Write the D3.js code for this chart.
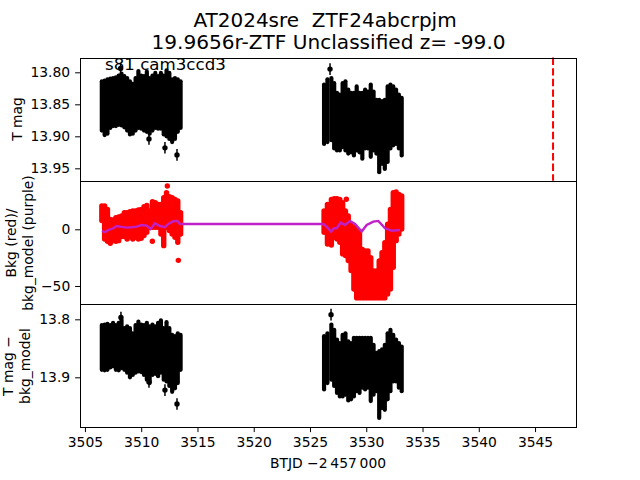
<!DOCTYPE html>
<html>
<head>
<meta charset="utf-8">
<script src="https://cdn.jsdelivr.net/npm/d3@7"></script>
<style>
  html, body { margin: 0; padding: 0; background: #fff; }
  svg { display: block; }
  text { font-family: "DejaVu Sans", sans-serif; fill: #000; }
</style>
</head>
<body>
<svg id="chart" width="640" height="480"></svg>
<script>
// binned times, first orbit then second orbit
const binTimes = [
  3506.5,3506.75,3507,3507.25,3507.5,3507.75,3508,3508.25,3508.5,3508.75,3509,3509.25,3509.5,3509.75,3510,
  3510.25,3510.5,3510.75,3511,3511.25,3511.5,3511.75,3512,3512.25,3512.5,3512.75,3513,3513.25,3513.5,
  3526.25,3526.55,3526.9,3527.15,3527.4,3527.65,3527.9,3528.15,3528.4,3528.65,3528.9,3529.15,3529.4,3529.65,
  3529.9,3530.15,3530.4,3530.65,3530.9,3531.15,3531.4,3531.65,3531.9,3532.15,3532.4,3532.65,3532.9,3533.15
];

// top panel: T mag envelope per bin
const magTop = [
  13.814,13.813,13.811,13.810,13.809,13.808,13.805,13.802,13.806,13.809,13.814,13.818,13.809,13.798,13.805,
  13.806,13.799,13.809,13.805,13.801,13.806,13.801,13.805,13.797,13.801,13.811,13.809,13.811,13.814,
  13.819,13.811,13.809,13.817,13.832,13.835,13.817,13.814,13.827,13.832,13.832,13.822,13.832,13.832,
  13.827,13.830,13.819,13.830,13.843,13.843,13.845,13.843,13.822,13.819,13.822,13.827,13.835,13.840
];
const magBottom = [
  13.891,13.898,13.896,13.887,13.884,13.884,13.882,13.883,13.886,13.891,13.897,13.896,13.891,13.887,13.888,
  13.891,13.893,13.896,13.891,13.887,13.888,13.888,13.897,13.900,13.904,13.909,13.904,13.893,13.887,
  13.912,13.909,13.906,13.919,13.922,13.922,13.917,13.922,13.927,13.925,13.930,13.922,13.925,13.935,
  13.919,13.919,13.932,13.922,13.927,13.956,13.943,13.951,13.940,13.919,13.914,13.912,13.919,13.930
];
const magOutTimes = [3508.17,3510.69,3512.11,3513.18,3526.78];
const magOutValues = [13.794,13.904,13.918,13.929,13.795];

// middle panel: background envelope per bin
const bkgTop = [
  20.5,20.5,17.6,8.8,8.2,10.2,10.8,11.7,14.7,14.7,15.5,16.1,16.1,17,17.6,
  20,21.1,16.1,24.4,23.5,22,22,27.9,32.3,28.8,27.9,26.4,25,14.7,
  16.1,22,26.4,27,27,26.4,23.5,16.1,11.7,4.4,1.4,0,-3,-17.7,
  -19.2,-19.2,-25,-36.8,-36.8,-28,-20.6,-11.8,4.4,17.6,32.3,32.9,30.8,29.4
];
const bkgBottom = [
  7.7,-8.5,-10.5,-12.3,-10,-10.5,-10,-6.4,-6.4,-8.5,-6.4,-8.5,-7,-8.5,-7.9,
  -5.5,-2.6,1.8,1.8,1.8,1.8,-4.1,-14.4,1.8,-1.1,-4.1,-7,-11.4,-4.1,
  -2.6,-12.9,-13.8,-7,-8.5,-11.4,-21.7,-23.2,-27.6,-36.4,-52.6,-60.5,-60.5,-60.5,
  -60.5,-60.5,-60.5,-60.5,-60.5,-60.5,-60.5,-60.5,-57,-52.6,-33.5,-10,-4.1,0.3
];
const bkgOutTimes = [3510.99,3512.32,3513.3,3528.23,3532.64];
const bkgOutValues = [-10.6,38.2,-27.4,26.5,-9.4];

// middle panel: background model
const modelTimes = [
  3506.51,3506.78,3507.07,3507.52,3507.81,3508.26,3508.7,3509.15,3509.59,3510.04,3510.48,3510.84,3511.22,
  3511.67,3512.11,3512.41,3512.85,3513.21,3513.44,
  3526.19,3526.48,3526.87,3527.13,3527.37,3527.73,3528.11,3528.56,3529,3529.59,3530.04,3530.63,3531.07,
  3531.67,3532.26,3533
];
const modelValues = [
  -1.5,-2.6,-0.6,0.9,2.9,2.1,1.5,1.8,2.4,3.8,3.2,0.3,5.3,
  2.9,1.8,4.7,7.1,7.4,4.7,
  4.7,2.4,-2,0.9,0.9,5.9,3.8,7.4,4.7,-2,3.8,6.8,7.4,
  0.9,-1.2,-0.6
];

// bottom panel: T mag minus background model, envelope per bin
const corrTop = [
  13.810,13.809,13.808,13.810,13.806,13.810,13.806,13.801,13.815,13.812,13.815,13.824,13.810,13.804,13.809,
  13.810,13.806,13.812,13.809,13.812,13.806,13.802,13.815,13.805,13.815,13.827,13.829,13.824,13.827,
  13.829,13.824,13.809,13.818,13.835,13.841,13.827,13.824,13.838,13.841,13.832,13.832,13.832,13.832,
  13.832,13.832,13.832,13.844,13.858,13.855,13.852,13.844,13.824,13.818,13.827,13.835,13.841,13.847
];
const corrBottom = [
  13.887,13.888,13.887,13.883,13.881,13.887,13.888,13.884,13.887,13.892,13.900,13.896,13.892,13.890,13.891,
  13.896,13.904,13.910,13.896,13.894,13.898,13.892,13.904,13.907,13.915,13.925,13.919,13.910,13.887,
  13.921,13.910,13.904,13.915,13.927,13.933,13.933,13.930,13.940,13.938,13.933,13.924,13.927,13.918,
  13.921,13.918,13.941,13.930,13.924,13.970,13.953,13.956,13.938,13.924,13.907,13.907,13.918,13.924
];
const corrOutTimes = [3508.2,3510.69,3512.11,3513.18,3526.87];
const corrOutValues = [13.797,13.908,13.922,13.946,13.792];

const eventTime = [3546.6];
const xTicks = [3505,3510,3515,3520,3525,3530,3535,3540,3545];
const magTicks = [13.80,13.85,13.90,13.95];
const bkgTicks = [0,-50];
const corrTicks = [13.8,13.9];

const svg = d3.select("#chart");
const left = 80, right = 576;
const panelH = 123.2;
const tops = [57.6, 180.8, 304];

const x = d3.scaleLinear().domain([3504.56, 3548.64]).range([left, right]);
const yMag = d3.scaleLinear().domain([13.777, 13.9695]).range([tops[0], tops[0] + panelH]);
const yBkg = d3.scaleLinear().domain([42.8, -65.9]).range([tops[1], tops[1] + panelH]);
const yCorr = d3.scaleLinear().domain([13.7736, 13.986]).range([tops[2], tops[2] + panelH]);

function columns(times, hi, lo, y, color, width) {
  svg.append("g").selectAll("line")
    .data(times)
    .enter().append("line")
    .attr("x1", d => x(d))
    .attr("x2", d => x(d))
    .attr("y1", (d, i) => y(hi[i]))
    .attr("y2", (d, i) => y(lo[i]))
    .attr("stroke", color)
    .attr("stroke-width", width)
    .attr("stroke-linecap", "round");
}

function outliers(times, vals, y, color, r, err) {
  const g = svg.append("g");
  g.selectAll("line")
    .data(times)
    .enter().append("line")
    .attr("x1", d => x(d))
    .attr("x2", d => x(d))
    .attr("y1", (d, i) => y(vals[i] - err))
    .attr("y2", (d, i) => y(vals[i] + err))
    .attr("stroke", color)
    .attr("stroke-width", 1.5);
  g.selectAll("circle")
    .data(times)
    .enter().append("circle")
    .attr("cx", d => x(d))
    .attr("cy", (d, i) => y(vals[i]))
    .attr("r", r)
    .attr("fill", color);
}

// marks
columns(binTimes, magTop, magBottom, yMag, "#000", 4.2);
outliers(magOutTimes, magOutValues, yMag, "#000", 2.7, 0.009);

svg.append("g").selectAll("line")
  .data(eventTime)
  .enter().append("line")
  .attr("x1", d => x(d))
  .attr("x2", d => x(d))
  .attr("y1", tops[0])
  .attr("y2", tops[0] + panelH)
  .attr("stroke", "#f00")
  .attr("stroke-width", 2)
  .attr("stroke-dasharray", "7.4,3.2");

columns(binTimes, bkgTop, bkgBottom, yBkg, "#f00", 5.4);
outliers(bkgOutTimes, bkgOutValues, yBkg, "#f00", 2.7, 0);

svg.append("path")
  .datum(modelTimes)
  .attr("fill", "none")
  .attr("stroke", "#c020c8")
  .attr("stroke-width", 2.4)
  .attr("d", d3.line().x(d => x(d)).y((d, i) => yBkg(modelValues[i])));

columns(binTimes, corrTop, corrBottom, yCorr, "#000", 4.2);
outliers(corrOutTimes, corrOutValues, yCorr, "#000", 2.7, 0.01);

// frames and axes
function frame(i) {
  svg.append("rect")
    .attr("x", left + 0.5)
    .attr("y", Math.round(tops[i]) + 0.5)
    .attr("width", right - left)
    .attr("height", Math.round(tops[i] + panelH) - Math.round(tops[i]))
    .attr("fill", "none")
    .attr("stroke", "#000")
    .attr("stroke-width", 1);
}
[0, 1, 2].forEach(frame);

function yAxis(scale, ticks, fmt) {
  const g = svg.append("g")
    .attr("transform", `translate(${left},0)`)
    .call(d3.axisLeft(scale).tickValues(ticks).tickFormat(fmt).tickSize(4.9).tickPadding(4.9));
  g.select(".domain").remove();
  g.selectAll("line").attr("stroke", "#000").attr("stroke-width", 1);
  g.selectAll("text").attr("font-size", 13.89).attr("font-family", "DejaVu Sans");
}
yAxis(yMag, magTicks, d3.format(".2f"));
yAxis(yBkg, bkgTicks, d3.format("d"));
yAxis(yCorr, corrTicks, d3.format(".1f"));

const xg = svg.append("g")
  .attr("transform", `translate(0,${tops[2] + panelH})`)
  .call(d3.axisBottom(x).tickValues(xTicks).tickFormat(d3.format("d")).tickSize(4.9).tickPadding(4.9));
xg.select(".domain").remove();
xg.selectAll("line").attr("stroke", "#000").attr("stroke-width", 1);
xg.selectAll("text").attr("font-size", 13.89).attr("font-family", "DejaVu Sans");

// texts
function label(txt, px, py, size, rotate) {
  svg.append("text")
    .attr("transform", `translate(${px},${py})` + (rotate ? " rotate(-90)" : ""))
    .attr("text-anchor", "middle")
    .attr("font-size", size)
    .style("white-space", "pre")
    .text(txt);
}
label("AT2024sre  ZTF24abcrpjm", 325, 27, 20);
label("19.9656r-ZTF Unclassified z= -99.0", 328.5, 49, 20.1);
label("T mag", 22, 119, 13.89, true);
label("Bkg (red)/", 16, 243, 13.89, true);
label("bkg_model (purple)", 33, 243, 13.89, true);
label("T mag \u2212", 13, 366, 13.89, true);
label("bkg_model", 30, 366, 13.89, true);
label("BTJD \u22122\u2009457\u2009000", 328, 468, 13.89);

svg.append("text")
  .attr("x", 105)
  .attr("y", 70)
  .attr("font-size", 16.67)
  .text("s81 cam3ccd3");
</script>
</body>
</html>
